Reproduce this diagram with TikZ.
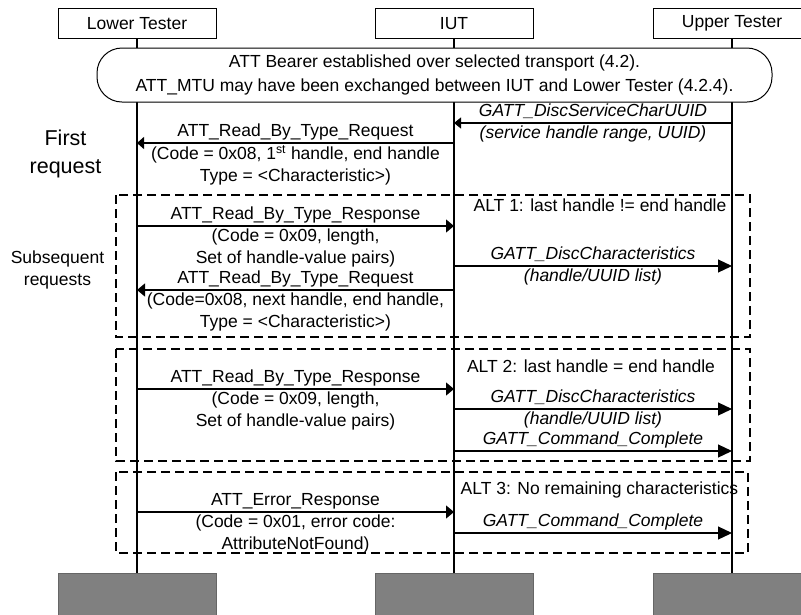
\documentclass[tikz,border=0pt]{standalone}
\usepackage{fontspec}
\setmainfont{Liberation Sans}
\usetikzlibrary{arrows.meta}

\newcommand\lblfont{\fontsize{17.5}{22}\selectfont}

\begin{document}
\begin{tikzpicture}[x=1pt, y=-1pt, font=\lblfont, >={Triangle[length=8pt, width=13pt]},
  head/.style={draw, line width=1pt, minimum width=158pt, minimum height=30pt, inner sep=0pt},
  foot/.style={draw=gray!80!black, fill=gray, minimum width=158pt, minimum height=50pt},
  life/.style={line width=1.6pt},
  msg/.style={->, line width=1.2pt},
  call/.style={msg, -{Triangle[length=14pt, width=13pt]}},
  altbox/.style={draw, line width=1.2pt, dash pattern=on 9pt off 5pt},
  up/.style={above=5.5pt, inner sep=0pt, text depth=0pt},
  dn/.style={below=2pt, inner sep=0pt, align=center},
  it/.style={font=\lblfont\itshape}]
\useasboundingbox (0,0) rectangle (801,614);

% participants
\node[head] (lt) at (137,23.5) {Lower Tester};
\node[head] (iut) at (454,23.5) {IUT};
\node[head] (ut) at (732,23.5) {Upper Tester};
\node[foot] (lt-end) at (137,598) {};
\node[foot] (iut-end) at (454,598) {};
\node[foot] (ut-end) at (732,598) {};
\draw[life] (lt) -- (lt-end);
\draw[life] (iut) -- (iut-end);
\draw[life] (ut) -- (ut-end);

\node[draw, fill=white, line width=1pt, rounded corners=25pt, minimum width=675pt, minimum height=54pt,
  align=center, font=\fontsize{17.5}{24}\selectfont] (bearer) at (434.5,75)
  {ATT Bearer established over selected transport (4.2).\\ATT\_MTU may have been exchanged between IUT and Lower Tester (4.2.4).};

% alternatives
\draw[altbox] (116,195) rectangle (750,337);
\draw[altbox] (116,349) rectangle (750,461);
\draw[altbox] (116,472) rectangle (748,553);
\node[anchor=base] (alt1) at (600,211) {ALT 1: last handle != end handle};
\node[anchor=base] (alt2) at (591,372) {ALT 2: last handle = end handle};
\node[anchor=base] (alt3) at (599.5,494) {ALT 3: No remaining characteristics};

\node[anchor=north, inner sep=0pt, align=center, font=\fontsize{21.5}{28}\selectfont] (first) at (65.5,129.5) {First\\request};
\node[anchor=north, inner sep=0pt, align=center] (subseq) at (57.5,250.5) {Subsequent\\requests};

% message rows
\coordinate (r1) at (0,123);
\coordinate (r2) at (0,143);
\coordinate (r3) at (0,226);
\coordinate (r4) at (0,266);
\coordinate (r5) at (0,290);
\coordinate (r6) at (0,389);
\coordinate (r7) at (0,409);
\coordinate (r8) at (0,451);
\coordinate (r9) at (0,512);
\coordinate (r10) at (0,533);

\draw[msg, >={Triangle[length=7pt, width=11pt]}] (ut |- r1) -- node[up, it]{GATT\_DiscServiceCharUUID}
  node[dn, it]{(service handle range, UUID)} (iut |- r1);
\draw[msg, >={Triangle[length=7pt, width=12pt]}] (iut |- r2) -- node[up]{ATT\_Read\_By\_Type\_Request}
  node[dn]{(Code = 0x08, 1\textsuperscript{st} handle, end handle\\Type = <Characteristic>)} (lt |- r2);
\draw[msg] (lt |- r3) -- node[up]{ATT\_Read\_By\_Type\_Response}
  node[dn]{(Code = 0x09, length,\\Set of handle-value pairs)} (iut |- r3);
\draw[call] (iut |- r4) -- node[up, it]{GATT\_DiscCharacteristics}
  node[dn, it]{(handle/UUID list)} (ut |- r4);
\draw[msg] (iut |- r5) -- node[up]{ATT\_Read\_By\_Type\_Request}
  node[dn]{(Code=0x08, next handle, end handle,\\Type = <Characteristic>)} (lt |- r5);
\draw[msg] (lt |- r6) -- node[up]{ATT\_Read\_By\_Type\_Response}
  node[dn]{(Code = 0x09, length,\\Set of handle-value pairs)} (iut |- r6);
\draw[call] (iut |- r7) -- node[up, it]{GATT\_DiscCharacteristics}
  node[dn, it]{(handle/UUID list)} (ut |- r7);
\draw[call] (iut |- r8) -- node[up, it]{GATT\_Command\_Complete} (ut |- r8);
\draw[msg] (lt |- r9) -- node[up]{ATT\_Error\_Response}
  node[dn]{(Code = 0x01, error code:\\AttributeNotFound)} (iut |- r9);
\draw[call] (iut |- r10) -- node[up, it]{GATT\_Command\_Complete} (ut |- r10);
\end{tikzpicture}
\end{document}
